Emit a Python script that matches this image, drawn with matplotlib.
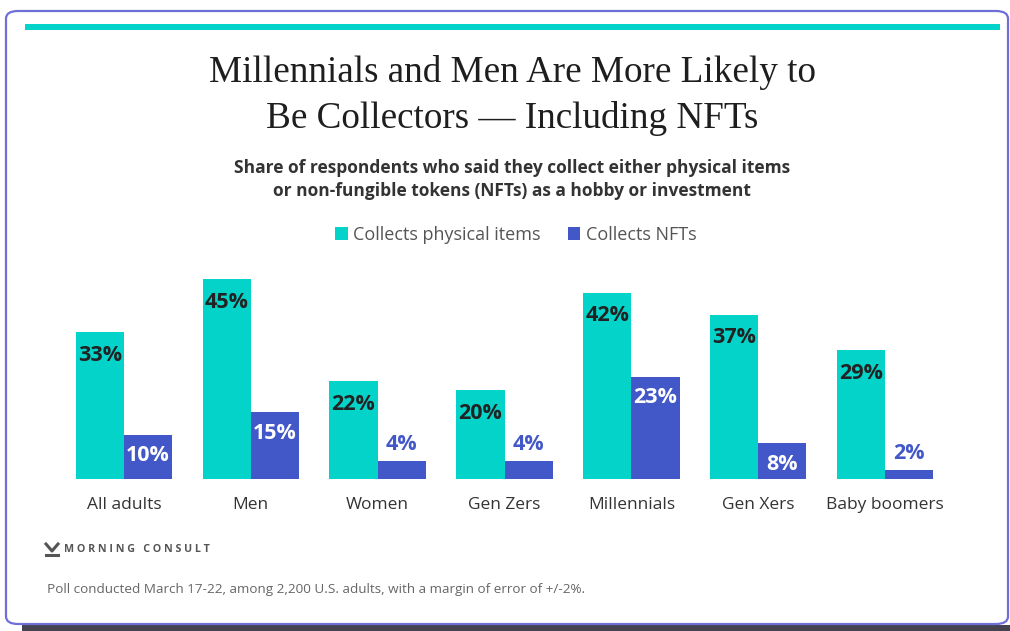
import matplotlib.pyplot as plt
import numpy as np
from matplotlib.patches import Patch, FancyBboxPatch, Rectangle
from matplotlib.lines import Line2D

groups = ["All adults", "Men", "Women", "Gen Zers", "Millennials", "Gen Xers", "Baby boomers"]
physical = [33, 45, 22, 20, 42, 37, 29]
nfts = [10, 15, 4, 4, 23, 8, 2]

TEAL = "#04d3c9"
BLUE = "#4358c8"
SANS = ["Open Sans", "DejaVu Sans"]
SERIF = ["Liberation Serif", "DejaVu Serif"]

W, H = 1010, 631
fig = plt.figure(figsize=(W / 100, H / 100), dpi=100)
fig.patch.set_facecolor("white")

def fx(px):
    return px / W

def fy(py):
    return 1 - py / H

# card frame, shadow strip and top accent
fig.patches.append(Rectangle((fx(22), 0), fx(W - 22), fy(625), transform=fig.transFigure,
                             facecolor="#45434f", edgecolor="none", zorder=0))
fig.patches.append(FancyBboxPatch((fx(6), fy(624)), fx(1002), fy(11) - fy(624),
                                  boxstyle="round,pad=0,rounding_size=0.012",
                                  transform=fig.transFigure, facecolor="white",
                                  edgecolor="#6f6fd8", linewidth=1.6, zorder=1))
fig.patches.append(Rectangle((fx(25), fy(30)), fx(975), fy(24) - fy(30), transform=fig.transFigure,
                             facecolor=TEAL, edgecolor="none", zorder=2))

fig.text(0.507, fy(72), "Millennials and Men Are More Likely to", ha="center", va="center",
         fontsize=26.7, family=SERIF, color="#1e1e1e")
fig.text(0.507, fy(118), "Be Collectors \u2014 Including NFTs", ha="center", va="center",
         fontsize=26.7, family=SERIF, color="#1e1e1e")
fig.text(0.507, fy(168), "Share of respondents who said they collect either physical items",
         ha="center", va="center", fontsize=12.5, fontweight="bold", family=SANS, color="#333333")
fig.text(0.507, fy(191), "or non-fungible tokens (NFTs) as a hobby or investment",
         ha="center", va="center", fontsize=12.5, fontweight="bold", family=SANS, color="#333333")

ax = fig.add_axes([fx(60.5), fy(479), fx(888), fy(257) - fy(479)])
ax.set_zorder(3)
ax.patch.set_alpha(0)

x = np.arange(len(groups))
bw = 0.38
ax.bar(x - bw / 2, physical, bw, color=TEAL, zorder=3)
ax.bar(x + bw / 2, nfts, bw, color=BLUE, zorder=3)

LABEL = dict(ha="center", va="center", fontsize=15.5, fontweight="bold", family=SANS,
             textcoords="offset points")
for xi, v in zip(x, physical):
    ax.annotate(f"{v}%", (xi - bw / 2, v), xytext=(0, -16.5), color="#222222", **LABEL)
for xi, v in zip(x, nfts):
    if v >= 8:
        ax.annotate(f"{v}%", (xi + bw / 2, v), xytext=(0, -15), color="white", **LABEL)
    else:
        ax.annotate(f"{v}%", (xi + bw / 2, v), xytext=(0, 12), color=BLUE, **LABEL)

ax.set_xlim(-0.5, len(groups) - 0.5)
ax.set_ylim(0, 50)
ax.set_xticks(x)
ax.set_xticklabels(groups, fontsize=12.5, family=SANS, color="#333333")
ax.tick_params(axis="x", length=0, pad=13)
ax.set_yticks([])
for s in ax.spines.values():
    s.set_visible(False)

handles = [Patch(facecolor=TEAL, label="Collects physical items"),
           Patch(facecolor=BLUE, label="Collects NFTs")]
fig.legend(handles=handles, loc="center", bbox_to_anchor=(0.5105, fy(235)), ncol=2,
           frameon=False, handlelength=0.7, handleheight=0.7, handletextpad=0.3,
           columnspacing=1.5, prop={"family": SANS, "size": 13}, labelcolor="#555555")

# Morning Consult mark: chevron over a bar
lx, ly = 46, 544
fig.lines.append(Line2D([fx(lx), fx(lx + 6), fx(lx + 12)], [fy(ly), fy(ly + 7), fy(ly)],
                        transform=fig.transFigure, color="#555555", linewidth=2.2, zorder=4))
fig.lines.append(Line2D([fx(lx), fx(lx + 12)], [fy(ly + 11), fy(ly + 11)],
                        transform=fig.transFigure, color="#555555", linewidth=2.2, zorder=4))
fig.text(fx(64), fy(549), "M O R N I N G   C O N S U L T", ha="left", va="center",
         fontsize=7.7, fontweight="bold", family=SANS, color="#555555")

fig.text(fx(47), fy(589), "Poll conducted March 17-22, among 2,200 U.S. adults, with a margin of error of +/-2%.",
         ha="left", va="center", fontsize=9.7, family=SANS, color="#666666")

fig.savefig("out.png", dpi=100)
